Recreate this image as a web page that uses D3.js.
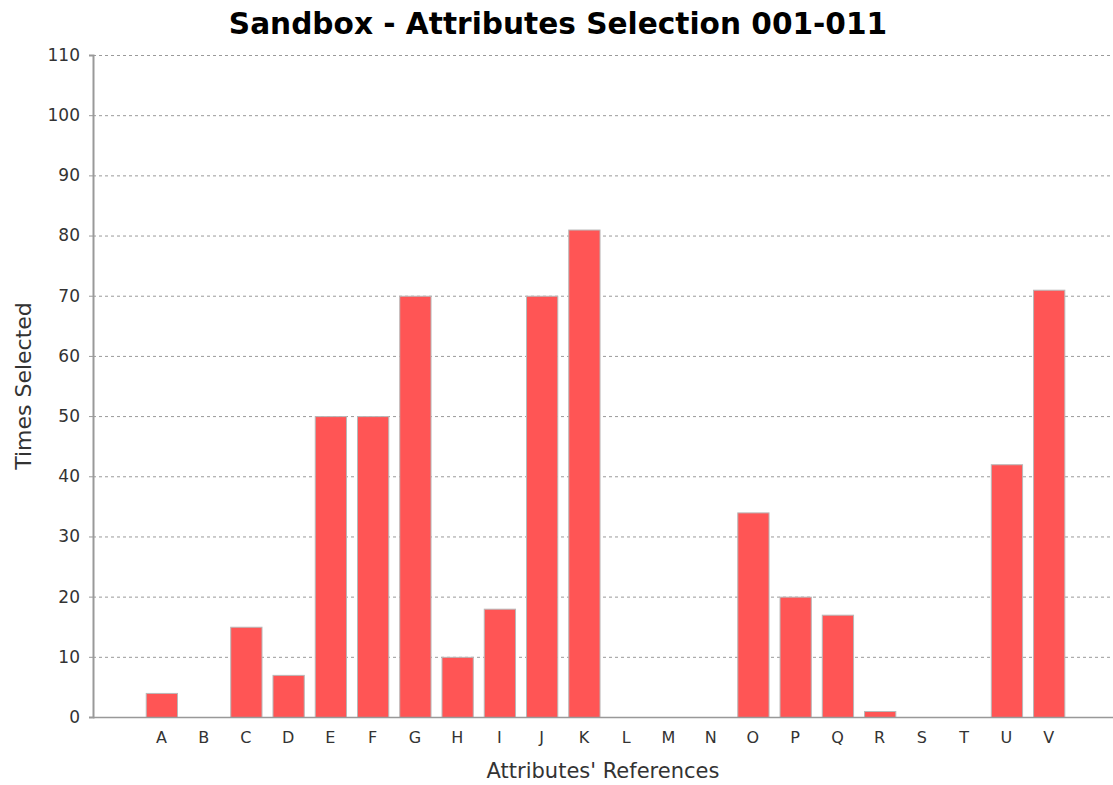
<!DOCTYPE html>
<html>
<head>
<meta charset="utf-8">
<script src="https://cdn.jsdelivr.net/npm/d3@7"></script>
<style>
  body { margin: 0; background: #fff; }
  svg { display: block; font-family: "DejaVu Sans", sans-serif; }
</style>
</head>
<body>
<svg id="chart" width="1113" height="785"></svg>
<script>
// chart values
let categories = ["A","B","C","D","E","F","G","H","I","J","K","L","M","N","O","P","Q","R","S","T","U","V"];
let timesSelected = [4, 0, 15, 7, 50, 50, 70, 10, 18, 70, 81, 0, 0, 0, 34, 20, 17, 1, 0, 0, 42, 71];
let yTicks = [0, 10, 20, 30, 40, 50, 60, 70, 80, 90, 100, 110];

let chartTitle = "Sandbox - Attributes Selection 001-011";
let xTitle = "Attributes' References";
let yTitle = "Times Selected";

let margin = {top: 55, right: 0, bottom: 68, left: 93},
    width = 1113 - margin.left - margin.right,
    height = 785 - margin.top - margin.bottom;

let svg = d3.select("#chart");

let g = svg.append("g")
    .attr("transform", "translate(" + margin.left + "," + margin.top + ")");

let x = d3.scaleBand()
    .domain(categories)
    .range([0, width])
    .paddingInner(0.26)
    .paddingOuter(1.2)
    .align(0.52);

let y = d3.scaleLinear()
    .domain([0, 110])
    .range([height, 0]);

// dashed gridlines
g.selectAll(".grid")
    .data(yTicks)
    .enter()
    .append("line")
    .attr("class", "grid")
    .attr("x1", 0)
    .attr("x2", width)
    .attr("y1", d => y(d) + 0.5)
    .attr("y2", d => y(d) + 0.5)
    .style("stroke", "#9a9a9a")
    .style("stroke-width", 1)
    .style("stroke-dasharray", "3,3");

// bars
g.selectAll(".bar")
    .data(timesSelected)
    .enter()
    .append("rect")
    .attr("class", "bar")
    .attr("x", (d, i) => x(categories[i]) + 0.5)
    .attr("y", d => y(d) + 0.5)
    .attr("width", x.bandwidth())
    .attr("height", d => height - y(d))
    .style("fill", "#ff5555")
    .style("stroke", "#b8b8b8")
    .style("stroke-width", 1);

// baseline
g.append("line")
    .attr("x1", 0)
    .attr("x2", width)
    .attr("y1", height + 0.5)
    .attr("y2", height + 0.5)
    .style("stroke", "#999")
    .style("stroke-width", 1.5);

// y axis
let yAxis = g.append("g")
    .call(d3.axisLeft(y).tickValues(yTicks).tickSize(4).tickPadding(9));
yAxis.select(".domain").style("stroke", "#999").style("stroke-width", 2);
yAxis.selectAll(".tick line").style("stroke", "#999");
yAxis.selectAll("text")
    .style("font-size", "17px")
    .style("fill", "#333")
    .style("font-family", "'DejaVu Sans', sans-serif");

// x axis labels
let xAxis = g.append("g")
    .attr("transform", "translate(0," + height + ")")
    .call(d3.axisBottom(x).tickSize(0).tickPadding(15));
xAxis.select(".domain").remove();
xAxis.selectAll("text")
    .style("font-size", "16px")
    .style("fill", "#333")
    .style("font-family", "'DejaVu Sans', sans-serif");

// title
svg.append("text")
    .attr("x", 558)
    .attr("y", 34)
    .attr("text-anchor", "middle")
    .style("font-size", "29.6px")
    .style("font-weight", "bold")
    .style("fill", "#000")
    .text(chartTitle);

// axis titles
svg.append("text")
    .attr("x", margin.left + width / 2)
    .attr("y", 778)
    .attr("text-anchor", "middle")
    .style("font-size", "21px")
    .style("fill", "#333")
    .text(xTitle);

svg.append("text")
    .attr("transform", "translate(31," + (margin.top + height / 2) + ") rotate(-90)")
    .attr("text-anchor", "middle")
    .style("font-size", "22px")
    .style("fill", "#333")
    .text(yTitle);
</script>
</body>
</html>
